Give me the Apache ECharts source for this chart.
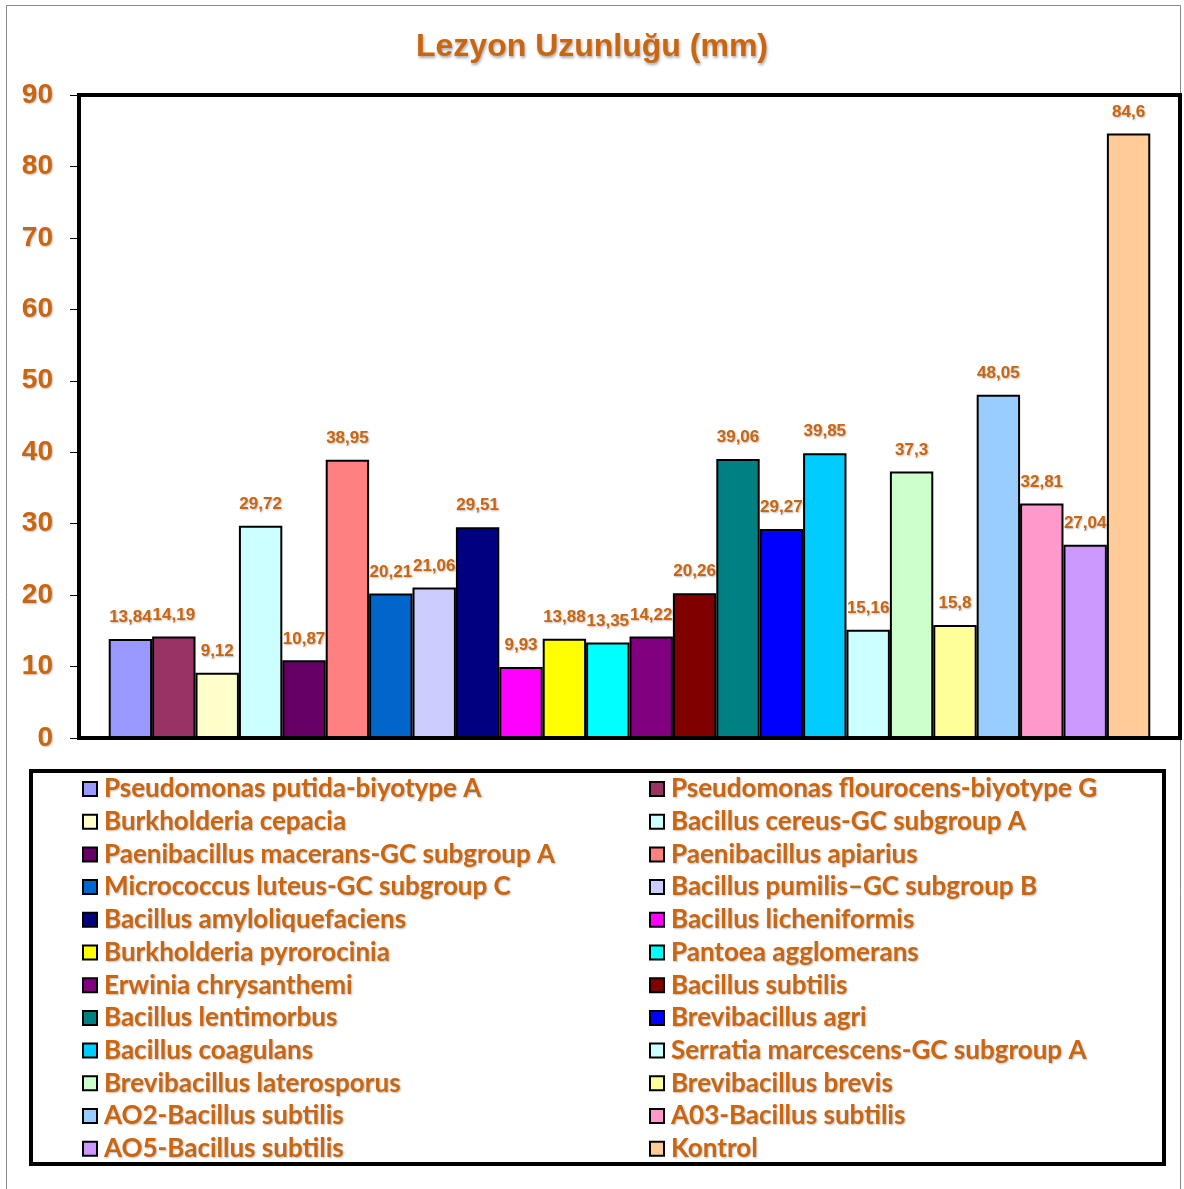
<!DOCTYPE html>
<html>
<head>
<meta charset="utf-8">
<script src="https://cdn.jsdelivr.net/npm/echarts@6/dist/echarts.min.js"></script>
<style>
  html, body { margin: 0; padding: 0; background: #fff; }
  #chart { width: 1184px; height: 1189px; }
</style>
</head>
<body>
<div id="chart"></div>
<script>
// Lesion length (mm) per isolate
const isolates = [
  'Pseudomonas putida-biyotype A', 'Pseudomonas flourocens-biyotype G',
  'Burkholderia cepacia', 'Bacillus cereus-GC subgroup A',
  'Paenibacillus macerans-GC subgroup A', 'Paenibacillus apiarius',
  'Micrococcus luteus-GC subgroup C', 'Bacillus pumilis\u2013GC subgroup B',
  'Bacillus amyloliquefaciens', 'Bacillus licheniformis',
  'Burkholderia pyrorocinia', 'Pantoea agglomerans',
  'Erwinia chrysanthemi', 'Bacillus subtilis',
  'Bacillus lentimorbus', 'Brevibacillus agri',
  'Bacillus coagulans', 'Serratia marcescens-GC subgroup A',
  'Brevibacillus laterosporus', 'Brevibacillus brevis',
  'AO2-Bacillus subtilis', 'A03-Bacillus subtilis',
  'AO5-Bacillus subtilis', 'Kontrol'
];
const lesionLength = [
  13.84, 14.19, 9.12, 29.72, 10.87, 38.95, 20.21, 21.06, 29.51, 9.93,
  13.88, 13.35, 14.22, 20.26, 39.06, 29.27, 39.85, 15.16, 37.3, 15.8,
  48.05, 32.81, 27.04, 84.6
];
const barColors = [
  '#9999FF', '#993366', '#FFFFCC', '#CCFFFF', '#660066', '#FF8080',
  '#0066CC', '#CCCCFF', '#000080', '#FF00FF', '#FFFF00', '#00FFFF',
  '#800080', '#800000', '#008080', '#0000FF', '#00CCFF', '#CCFFFF',
  '#CCFFCC', '#FFFF99', '#99CCFF', '#FF99CC', '#CC99FF', '#FFCC99'
];
const yTicks = { min: 0, max: 90, interval: 10 };

const ORANGE = '#c9660f';
const shadow = { textShadowColor: 'rgba(0,0,0,0.28)', textShadowBlur: 2, textShadowOffsetX: 1, textShadowOffsetY: 1 };

const series = isolates.map((name, i) => ({
  name: name,
  type: 'bar',
  data: [lesionLength[i]],
  barGap: '0%',
  barCategoryGap: '5.4%',
  itemStyle: { color: barColors[i], borderColor: '#000', borderWidth: 2 },
  label: {
    show: true,
    position: 'top',
    distance: 13,
    color: ORANGE,
    fontFamily: 'Liberation Sans, Arial, sans-serif',
    fontWeight: 'bold',
    fontSize: 17,
    ...shadow,
    formatter: p => String(p.value).replace('.', ',')
  }
}));

const legendText = {
  color: ORANGE,
  fontFamily: 'Lato, sans-serif',
  fontWeight: 'bold',
  fontSize: 26,
  padding: [0, 0, 0, 2],
  ...shadow
};
const legendBase = {
  orient: 'vertical',
  top: 776,
  itemWidth: 14,
  itemHeight: 14,
  itemGap: 6.7,
  icon: 'rect',
  textStyle: legendText,
  padding: 0
};

const chart = echarts.init(document.getElementById('chart'), null, { renderer: 'canvas' });
chart.setOption({
  animation: false,
  backgroundColor: '#fff',
  title: {
    text: 'Lezyon Uzunluğu (mm)',
    left: 'center',
    top: 26,
    textStyle: {
      color: ORANGE,
      fontFamily: 'Liberation Sans, Arial, sans-serif',
      fontWeight: 'bold',
      fontSize: 32,
      textShadowColor: 'rgba(0,0,0,0.35)', textShadowBlur: 3, textShadowOffsetX: 1, textShadowOffsetY: 2
    }
  },
  graphic: [
    { type: 'rect', shape: { x: 6.5, y: 5.5, width: 1174, height: 1200 }, style: { fill: 'none', stroke: '#8a8a8a', lineWidth: 1 }, silent: true, z: -10 },
    { type: 'rect', shape: { x: 31, y: 771, width: 1133, height: 393 }, style: { fill: 'none', stroke: '#000', lineWidth: 4 }, silent: true, z: -5 }
  ],
  grid: {
    left: 79, top: 95, right: 4, bottom: 451,
    show: true, borderColor: '#000', borderWidth: 4,
    containLabel: false
  },
  xAxis: {
    type: 'category',
    data: [''],
    axisLine: { show: false },
    axisTick: { show: false },
    axisLabel: { show: false }
  },
  yAxis: {
    type: 'value',
    min: yTicks.min, max: yTicks.max, interval: yTicks.interval,
    axisLine: { show: true, lineStyle: { color: '#000', width: 4 } },
    axisTick: { show: true, length: 9, lineStyle: { color: '#000', width: 1 } },
    splitLine: { show: false },
    axisLabel: {
      margin: 26,
      color: ORANGE,
      fontFamily: 'Liberation Sans, Arial, sans-serif',
      fontWeight: 'bold',
      fontSize: 28,
      ...shadow
    }
  },
  legend: [
    { ...legendBase, left: 82, data: isolates.filter((_, i) => i % 2 === 0) },
    { ...legendBase, left: 649, data: isolates.filter((_, i) => i % 2 === 1) }
  ],
  series: series
});
</script>
</body>
</html>
